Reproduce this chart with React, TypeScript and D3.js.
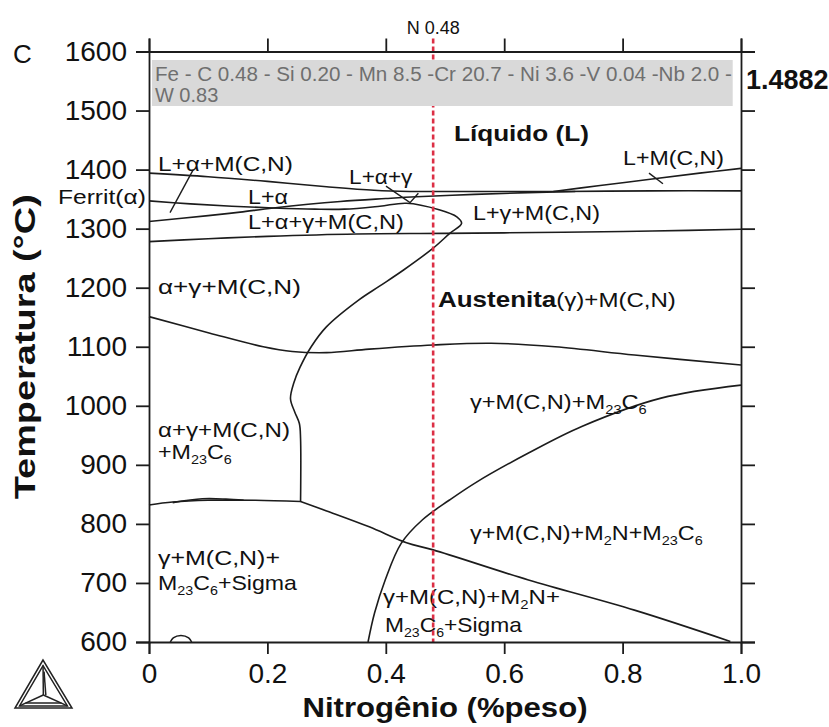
import React, { useRef, useEffect } from "react";
import * as d3 from "d3";

type Pt = [number, number];

// eixos
const nTicks = [0, 0.2, 0.4, 0.6, 0.8, 1.0];
const nTickLabels = ["0", "0.2", "0.4", "0.6", "0.8", "1.0"];
const tTicks = [600, 700, 800, 900, 1000, 1100, 1200, 1300, 1400, 1500, 1600];
const sampleN = 0.48;
const sampleLabel = "N 0.48";
const alloyText = [
  "Fe - C 0.48 - Si 0.20 - Mn 8.5 -Cr 20.7 - Ni 3.6 -V 0.04 -Nb 2.0 -",
  "W 0.83",
];
const rightValue = "1.4882";

// linhas de fase [N %peso, T °C]
const liquidusAlpha: Pt[] = [
  [0, 1394], [0.1, 1388], [0.2, 1380], [0.3, 1371], [0.38, 1365],
  [0.44, 1363], [0.55, 1363], [0.7, 1363], [0.85, 1364], [1.0, 1364],
];
const liquidusMCN: Pt[] = [
  [0.683, 1363], [0.762, 1373], [0.85, 1384], [0.93, 1394], [1.0, 1402],
];
const mcnStart: Pt[] = [
  [0, 1312], [0.1, 1322], [0.154, 1328], [0.21, 1335], [0.323, 1346],
  [0.4, 1351], [0.452, 1354], [0.55, 1358], [0.64, 1361], [0.72, 1363],
];
const ferriteBoundary: Pt[] = [
  [0, 1347], [0.07, 1342], [0.14, 1338], [0.21, 1335], [0.28, 1333],
  [0.33, 1333], [0.39, 1338], [0.435, 1343], [0.49, 1332], [0.52, 1320],
  [0.528, 1309], [0.508, 1292], [0.48, 1267], [0.43, 1230], [0.39, 1203],
  [0.354, 1179], [0.3, 1134], [0.274, 1100], [0.255, 1065], [0.245, 1040],
  [0.239, 1012], [0.246, 990], [0.254, 970], [0.256, 945], [0.256, 837],
];
const solidus: Pt[] = [
  [0, 1278], [0.1, 1283], [0.2, 1287], [0.35, 1291], [0.5, 1292],
  [0.7, 1294], [0.85, 1296], [1.0, 1299],
];
const alphaSolvus: Pt[] = [
  [0, 1151], [0.103, 1123], [0.193, 1100], [0.242, 1092], [0.3, 1090],
  [0.372, 1096], [0.48, 1103], [0.578, 1106], [0.686, 1100], [0.82, 1086],
  [1.0, 1069],
];
const m23c6Solvus: Pt[] = [
  [1.0, 1035], [0.865, 1013], [0.731, 965], [0.641, 920], [0.552, 870],
  [0.507, 840], [0.462, 807], [0.426, 767], [0.399, 705], [0.381, 649],
  [0.37, 600],
];
const m2nSolvus: Pt[] = [
  [0.256, 838], [0.3, 822], [0.372, 795], [0.435, 768], [0.48, 756],
  [0.641, 705], [0.82, 654], [0.982, 601],
];
const sigmaSolvus: Pt[] = [
  [0, 832], [0.04, 837], [0.1, 840], [0.18, 840], [0.256, 838],
];
const sigmaLens: Pt[] = [
  [0.04, 836], [0.09, 842.5], [0.13, 842], [0.16, 840],
];
const smallLoop: Pt[] = [
  [0.036, 600], [0.041, 607], [0.054, 611], [0.067, 607], [0.072, 600],
];
const pointerLaM: Pt[] = [[0.0743, 1399], [0.0355, 1327]];
const pointerLag: Pt[] = [[0.4003, 1372], [0.4409, 1344], [0.455, 1360]];
const pointerLM: Pt[] = [[0.8446, 1394], [0.8682, 1376]];

// rótulos das regiões: texto, N inicial, N final, T
const regionLabels = [
  { text: "L+α+M(C,N)", n0: 0.0152, n1: 0.2432, t: 1409.5 },
  { text: "L+α+γ", n0: 0.338, n1: 0.445, t: 1388 },
  { text: "L+M(C,N)", n0: 0.8007, n1: 0.9713, t: 1419.6 },
  { text: "Ferrit(α)", n0: -0.1537, n1: -0.0051, t: 1353.6 },
  { text: "L+α", n0: 0.1672, n1: 0.2348, t: 1353.6 },
  { text: "L+α+γ+M(C,N)", n0: 0.1672, n1: 0.4307, t: 1311.3 },
  { text: "L+γ+M(C,N)", n0: 0.5473, n1: 0.7618, t: 1326.5 },
  { text: "α+γ+M(C,N)", n0: 0.0152, n1: 0.2568, t: 1201.2 },
  { text: "**Austenita**(γ)+M(C,N)", n0: 0.4882, n1: 0.8902, t: 1179 },
  { text: "γ+M(C,N)+M_{23}C_{6}", n0: 0.5422, n1: 0.8412, t: 1006.5 },
  { text: "α+γ+M(C,N)", n0: 0.0152, n1: 0.2382, t: 959 },
  { text: "+M_{23}C_{6}", n0: 0.0152, n1: 0.1402, t: 922 },
  { text: "γ+M(C,N)+M_{2}N+M_{23}C_{6}", n0: 0.5422, n1: 0.9358, t: 784.6 },
  { text: "γ+M(C,N)+", n0: 0.0152, n1: 0.2213, t: 742 },
  { text: "M_{23}C_{6}+Sigma", n0: 0.0152, n1: 0.2517, t: 700 },
  { text: "γ+M(C,N)+M_{2}N+", n0: 0.3953, n1: 0.6943, t: 676 },
  { text: "M_{23}C_{6}+Sigma", n0: 0.3986, n1: 0.6318, t: 628.9 },
];
const liquidLabel = { text: "Líquido (L)", n0: 0.5152, n1: 0.7432, t: 1462 };

const FONT = "'Liberation Sans', Arial, Helvetica, sans-serif";

const PhaseDiagram = () => {
  const ref = useRef<HTMLDivElement>(null);

  useEffect(() => {
    const width = 829;
    const height = 727;

    const x = d3.scaleLinear().domain([0, 1]).range([149, 741]);
    const y = d3.scaleLinear().domain([600, 1600]).range([642, 51.5]);

    d3.select(ref.current).selectAll("*").remove();

    const svg = d3
      .select(ref.current)
      .append("svg")
      .attr("width", width)
      .attr("height", height)
      .attr("viewBox", [0, 0, width, height])
      .style("display", "block")
      .style("background", "#fff")
      .style("font-family", FONT);

    const line = d3
      .line<Pt>()
      .x((d) => x(d[0]))
      .y((d) => y(d[1]))
      .curve(d3.curveCatmullRom.alpha(0.5));

    const curves = [
      liquidusAlpha, liquidusMCN, mcnStart, ferriteBoundary, solidus,
      alphaSolvus, m23c6Solvus, m2nSolvus, sigmaSolvus, sigmaLens, smallLoop,
    ];
    svg
      .append("g")
      .selectAll("path")
      .data(curves)
      .join("path")
      .attr("fill", "none")
      .attr("stroke", "#1c1c1c")
      .attr("stroke-width", 1.6)
      .attr("d", (d) => line(d));

    const straight = d3.line<Pt>().x((d) => x(d[0])).y((d) => y(d[1]));
    svg
      .append("g")
      .selectAll("path")
      .data([pointerLaM, pointerLag, pointerLM])
      .join("path")
      .attr("fill", "none")
      .attr("stroke", "#1c1c1c")
      .attr("stroke-width", 1.4)
      .attr("d", (d) => straight(d));

    // ajusta a largura do texto ao intervalo desejado
    const fitText = (sel: any, x0: number, x1: number) => {
      const node = sel.node() as SVGTextElement;
      const w = node.getBBox().width;
      if (w > 0) {
        const s = Math.max(0.75, Math.min(1.35, (x1 - x0) / w));
        sel.attr("transform", `translate(${x0},0) scale(${s},1) translate(${-x0},0)`);
      }
    };

    const addLabel = (lab: any, size: number, weight: string) => {
      const x0 = x(lab.n0);
      const x1 = x(lab.n1);
      const t = svg
        .append("text")
        .attr("x", x0)
        .attr("y", y(lab.t) + size * 0.36)
        .attr("font-size", size)
        .attr("font-weight", weight)
        .attr("fill", "#111");
      const parts = lab.text.split(/(\*\*[^*]+\*\*|_\{[^}]+\})/).filter((p: string) => p);
      let shifted = false;
      parts.forEach((p: string) => {
        const ts = t.append("tspan");
        if (p.startsWith("_{")) {
          ts.text(p.slice(2, -1)).attr("font-size", size * 0.62);
          if (!shifted) ts.attr("dy", 5);
          shifted = true;
        } else {
          if (p.startsWith("**")) {
            ts.text(p.slice(2, -2)).attr("font-weight", "bold").attr("font-size", size * 1.08);
          } else {
            ts.text(p);
          }
          if (shifted) ts.attr("dy", -5);
          shifted = false;
        }
      });
      fitText(t, x0, x1);
    };

    regionLabels.forEach((lab) => addLabel(lab, 20, "normal"));
    addLabel(liquidLabel, 22, "bold");

    // linha tracejada da composição
    svg
      .append("line")
      .attr("x1", x(sampleN))
      .attr("x2", x(sampleN))
      .attr("y1", y(1622))
      .attr("y2", y(600))
      .attr("stroke", "#dc2f45")
      .attr("stroke-width", 2.6)
      .attr("stroke-dasharray", "5,3");

    // caixa da composição
    svg
      .append("rect")
      .attr("x", x(0.005))
      .attr("y", y(1585.6))
      .attr("width", x(0.986) - x(0.005))
      .attr("height", y(1507.7) - y(1585.6))
      .attr("fill", "#d9d9d9");
    alloyText.forEach((s, i) => {
      const t = svg
        .append("text")
        .attr("x", x(0.01))
        .attr("y", y(1585.6) + 21 + i * 20.5)
        .attr("font-size", 20)
        .attr("fill", "#6f6f6f")
        .text(s);
      if (i === 0) fitText(t, x(0.01), x(0.985));
    });

    // eixos
    const axisStyle = (g: any) => {
      g.select(".domain").attr("stroke", "#1c1c1c").attr("stroke-width", 1.8);
      g.selectAll(".tick line").attr("stroke", "#1c1c1c").attr("stroke-width", 1.8);
      g.selectAll("text").attr("font-family", FONT).attr("font-size", 28).attr("fill", "#111");
    };

    svg
      .append("g")
      .attr("transform", `translate(${x(0)},0)`)
      .call(d3.axisLeft(y).tickValues(tTicks).tickSize(13).tickPadding(9).tickFormat(d3.format("d")))
      .call(axisStyle);
    svg
      .append("g")
      .attr("transform", `translate(${x(1)},0)`)
      .call(d3.axisRight(y).tickValues(tTicks).tickSize(14).tickFormat(() => ""))
      .call(axisStyle);
    svg
      .append("g")
      .attr("transform", `translate(0,${y(1600)})`)
      .call(d3.axisTop(x).tickValues(nTicks).tickSize(13).tickFormat(() => ""))
      .call(axisStyle);
    svg
      .append("g")
      .attr("transform", `translate(0,${y(600)})`)
      .call(
        d3
          .axisBottom(x)
          .tickValues(nTicks)
          .tickSize(12)
          .tickPadding(9)
          .tickFormat((d, i) => nTickLabels[i])
      )
      .call(axisStyle);

    // textos fora do gráfico
    svg
      .append("text")
      .attr("x", x(sampleN))
      .attr("y", 34)
      .attr("text-anchor", "middle")
      .attr("font-size", 18)
      .attr("fill", "#111")
      .text(sampleLabel);

    svg
      .append("text")
      .attr("x", x(1) + 5)
      .attr("y", y(1553) + 10)
      .attr("font-size", 27)
      .attr("font-weight", "bold")
      .attr("fill", "#111")
      .text(rightValue);

    svg
      .append("text")
      .attr("x", 13)
      .attr("y", 63)
      .attr("font-size", 26)
      .attr("fill", "#111")
      .text("C");

    svg
      .append("text")
      .attr("transform", `translate(35,${y(1100)}) rotate(-90)`)
      .attr("text-anchor", "middle")
      .attr("font-size", 30)
      .attr("font-weight", "bold")
      .attr("fill", "#111")
      .attr("textLength", 305)
      .attr("lengthAdjust", "spacingAndGlyphs")
      .text("Temperatura (°C)");

    svg
      .append("text")
      .attr("x", x(0.5))
      .attr("y", 717)
      .attr("text-anchor", "middle")
      .attr("font-size", 28)
      .attr("font-weight", "bold")
      .attr("fill", "#111")
      .attr("textLength", 285)
      .attr("lengthAdjust", "spacingAndGlyphs")
      .text("Nitrogênio (%peso)");

    // logotipo (triângulo)
    const logo = svg
      .append("g")
      .attr("fill", "none")
      .attr("stroke", "#222")
      .attr("stroke-width", 1.5);
    const tri: Pt[] = [[43, 660], [15, 708], [72, 708]];
    const cx = (tri[0][0] + tri[1][0] + tri[2][0]) / 3;
    const cy = (tri[0][1] + tri[1][1] + tri[2][1]) / 3 + 3;
    const scaleTri = (k: number) =>
      tri.map(([px, py]) => [cx + (px - cx) * k, cy + (py - cy) * k] as Pt);
    [1, 0.84].forEach((k) => {
      logo.append("path").attr("d", d3.line()(scaleTri(k)) + "Z");
    });
    const inner = scaleTri(0.84);
    inner.forEach(([px, py]) => {
      logo.append("line").attr("x1", cx).attr("y1", cy).attr("x2", px).attr("y2", py);
    });
    logo.append("line").attr("x1", cx + 2.5).attr("y1", cy).attr("x2", inner[0][0] + 1).attr("y2", inner[0][1] + 6);
    logo
      .append("line")
      .attr("x1", inner[1][0] + 6)
      .attr("y1", inner[1][1] - 3)
      .attr("x2", inner[2][0] - 6)
      .attr("y2", inner[2][1] - 3);
  }, []);

  return <div ref={ref} style={{ position: "absolute", left: 0, top: 0 }}></div>;
};

export default function App() {
  return <PhaseDiagram />;
}
